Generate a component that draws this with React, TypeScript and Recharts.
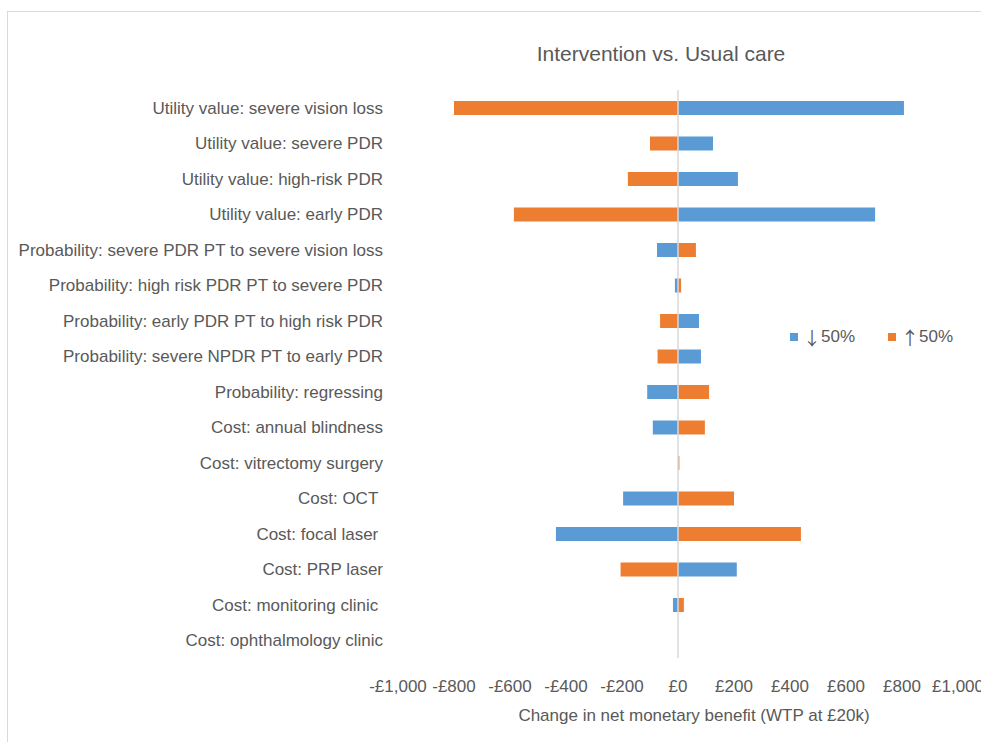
import { BarChart, Bar, XAxis, YAxis, ReferenceLine, Legend } from "recharts";

const categories = [
  "Utility value: severe vision loss",
  "Utility value: severe PDR",
  "Utility value: high-risk PDR",
  "Utility value: early PDR",
  "Probability: severe PDR PT to severe vision loss",
  "Probability: high risk PDR PT to severe PDR",
  "Probability: early PDR PT to high risk PDR",
  "Probability: severe NPDR PT to early PDR",
  "Probability: regressing",
  "Cost: annual blindness",
  "Cost: vitrectomy surgery",
  "Cost: OCT\u00a0",
  "Cost: focal laser\u00a0",
  "Cost: PRP laser",
  "Cost: monitoring clinic\u00a0",
  "Cost: ophthalmology clinic",
];

// ↓50% (blue) and ↑50% (orange), change in NMB in £
const downValues = [807, 125, 214, 704, -75, -11, 75, 82, -110, -90, 0, -196, -436, 210, -18, 0];
const upValues = [-800, -100, -179, -586, 64, 11, -64, -73, 111, 96, 5, 200, 439, -205, 21, 0];

const xTicks = [-1000, -800, -600, -400, -200, 0, 200, 400, 600, 800, 1000];

const data = categories.map((name, i) => ({ name, down: downValues[i], up: upValues[i] }));

const FONT = "'Liberation Sans', Arial, sans-serif";
const TEXT = "#595959";

const fmt = (v: number) => {
  const s = Math.abs(v).toString().replace(/\B(?=(\d{3})+(?!\d))/g, ",");
  return v < 0 ? `-£${s}` : `£${s}`;
};

function LegendBox({ payload }: any) {
  const items = [...(payload || [])].sort((a: any, b: any) => (a.dataKey === "down" ? -1 : b.dataKey === "down" ? 1 : 0));
  return (
    <div style={{ display: "flex", fontFamily: FONT, fontSize: 17, color: TEXT, lineHeight: "20px" }}>
      {items.map((p: any, i: number) => (
        <div key={i} style={{ display: "flex", alignItems: "center", marginRight: 33 }}>
          <span style={{ width: 8, height: 8, background: p.color, display: "inline-block", marginRight: 5 }} />
          <span style={{ fontFamily: "'Noto Sans CJK JP', 'DejaVu Sans', sans-serif", fontSize: 18 }}>
            {String(p.value).charAt(0)}
          </span>
          <span>{String(p.value).slice(1)}</span>
        </div>
      ))}
    </div>
  );
}

export default function App() {
  return (
    <div style={{ position: "absolute", left: 0, top: 0, width: 981, height: 742, background: "#fff" }}>
      <div
        style={{
          position: "absolute",
          left: 7,
          top: 11,
          width: 974,
          height: 731,
          borderTop: "1px solid #d9d9d9",
          borderLeft: "1px solid #d9d9d9",
          boxSizing: "border-box",
        }}
      />
      <div
        style={{
          position: "absolute",
          left: 0,
          top: 42,
          width: 1322,
          textAlign: "center",
          fontFamily: FONT,
          fontSize: 21,
          lineHeight: "24px",
          color: TEXT,
        }}
      >
        Intervention vs. Usual care
      </div>
      <BarChart
        width={981}
        height={742}
        data={data}
        layout="vertical"
        stackOffset="sign"
        barSize={14}
        margin={{ top: 90, right: 23, left: 0, bottom: 0 }}
        style={{ position: "absolute", left: 0, top: 0 }}
      >
        <XAxis
          type="number"
          domain={[-1000, 1000]}
          ticks={xTicks}
          tickFormatter={fmt}
          axisLine={false}
          tickLine={false}
          tickMargin={16}
          height={84}
          interval={0}
          tick={{ fontSize: 17, fill: TEXT, fontFamily: FONT }}
          label={{
            value: "Change in net monetary benefit (WTP at £20k)",
            position: "insideBottom",
            offset: 21,
            dx: 16,
            style: { fontSize: 17, fill: TEXT, fontFamily: FONT },
          }}
        />
        <YAxis
          type="category"
          dataKey="name"
          width={398}
          axisLine={false}
          tickLine={false}
          tickMargin={9}
          interval={0}
          tick={{ fontSize: 17, fill: TEXT, fontFamily: FONT }}
        />
        <ReferenceLine x={0} stroke="#d9d9d9" strokeWidth={1.5} />
        <Legend
          layout="horizontal"
          verticalAlign="middle"
          align="center"
          content={<LegendBox />}
          wrapperStyle={{ position: "absolute", left: 790, top: 327, width: 190 }}
        />
        <Bar dataKey="down" name="↓50%" stackId="a" fill="#5b9bd5" isAnimationActive={false} />
        <Bar dataKey="up" name="↑50%" stackId="a" fill="#ed7d31" isAnimationActive={false} />
      </BarChart>
    </div>
  );
}
